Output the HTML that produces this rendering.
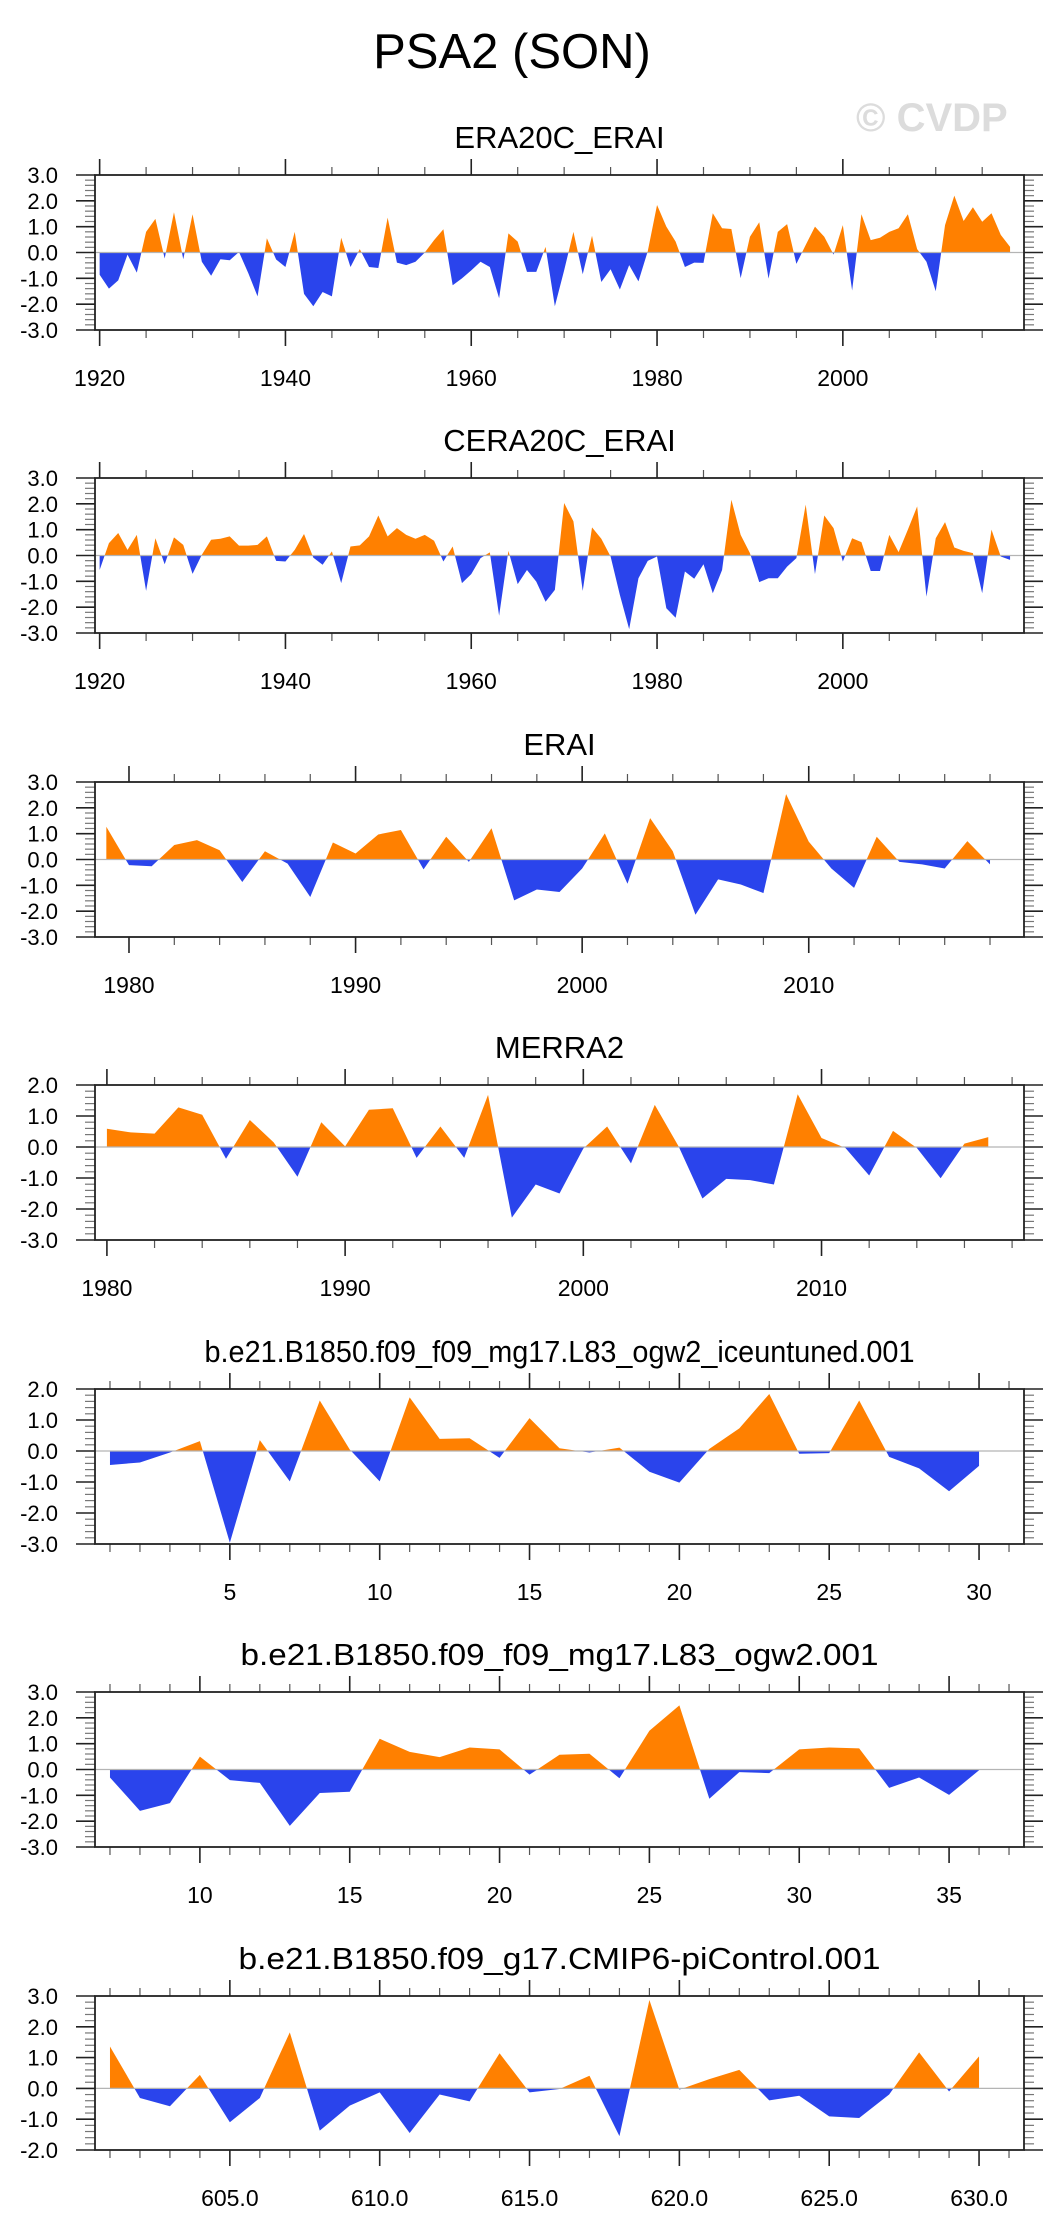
<!DOCTYPE html>
<html><head><meta charset="utf-8"><title>PSA2 (SON)</title>
<style>
html,body{margin:0;padding:0;background:#fff;}
svg{display:block;font-family:"Liberation Sans",Arial,sans-serif;}
</style></head>
<body>
<svg id="chart" width="1058" height="2236" viewBox="0 0 1058 2236" xmlns="http://www.w3.org/2000/svg">
<rect x="0" y="0" width="1058" height="2236" fill="#fff"/>
<text x="512" y="68" text-anchor="middle" font-size="49" fill="#000">PSA2 (SON)</text>
<text x="856" y="131" font-size="40" font-weight="bold" fill="#dcdcdc">© CVDP</text>
</svg>
<script>
// ---- data ----
const era20cYears = [1920, 2018];
const era20cValues = [-0.86,-1.4,-1.08,-0.08,-0.78,0.8,1.3,-0.23,1.56,-0.26,1.48,-0.36,-0.9,-0.26,-0.3,0.02,-0.8,-1.7,0.55,-0.27,-0.56,0.8,-1.6,-2.08,-1.53,-1.7,0.57,-0.56,0.13,-0.56,-0.6,1.35,-0.39,-0.49,-0.36,0.0,0.48,0.9,-1.27,-1.0,-0.69,-0.36,-0.56,-1.77,0.74,0.42,-0.75,-0.75,0.22,-2.08,-0.69,0.8,-0.84,0.65,-1.14,-0.65,-1.43,-0.49,-1.12,0.05,1.84,1.0,0.42,-0.56,-0.39,-0.4,1.52,0.94,0.91,-0.99,0.61,1.17,-1.01,0.8,1.1,-0.44,0.29,1.0,0.61,-0.08,1.06,-1.47,1.48,0.48,0.57,0.8,0.94,1.48,0.13,-0.36,-1.5,1.06,2.2,1.22,1.75,1.19,1.52,0.68,0.22];
const cera20cYears = [1920, 2018];
const cera20cValues = [-0.56,0.48,0.87,0.22,0.8,-1.37,0.67,-0.34,0.7,0.41,-0.71,0.03,0.61,0.65,0.74,0.38,0.38,0.41,0.74,-0.21,-0.23,0.22,0.83,-0.08,-0.36,0.16,-1.07,0.35,0.39,0.74,1.55,0.74,1.06,0.8,0.65,0.8,0.57,-0.23,0.35,-1.07,-0.72,-0.1,0.12,-2.33,0.18,-1.11,-0.56,-1.01,-1.79,-1.33,2.03,1.32,-1.37,1.09,0.65,-0.04,-1.53,-2.85,-0.88,-0.21,-0.04,-2.04,-2.41,-0.62,-0.9,-0.34,-1.46,-0.56,2.16,0.8,0.09,-1.03,-0.88,-0.88,-0.43,-0.1,1.97,-0.72,1.55,1.06,-0.23,0.67,0.52,-0.6,-0.6,0.8,0.13,1.0,1.9,-1.59,0.67,1.29,0.31,0.18,0.09,-1.46,1.0,-0.04,-0.17];
const eraiYears = [1979, 2018];
const eraiValues = [1.27,-0.22,-0.26,0.56,0.75,0.36,-0.87,0.32,-0.16,-1.45,0.66,0.23,0.97,1.14,-0.38,0.88,-0.09,1.21,-1.58,-1.16,-1.26,-0.35,1.01,-0.94,1.6,0.32,-2.14,-0.77,-0.97,-1.3,2.53,0.69,-0.35,-1.1,0.88,-0.09,-0.19,-0.35,0.71,-0.19];
const merra2Years = [1980, 2017];
const merra2Values = [0.59,0.47,0.43,1.28,1.04,-0.38,0.87,0.15,-0.96,0.8,0.02,1.2,1.25,-0.35,0.66,-0.35,1.68,-2.28,-1.21,-1.5,-0.05,0.66,-0.53,1.36,0.02,-1.66,-1.03,-1.07,-1.21,1.7,0.29,-0.03,-0.92,0.52,-0.03,-1.01,0.11,0.32];
const iceuntunedYears = [1, 30];
const iceuntunedValues = [-0.45,-0.37,-0.05,0.32,-2.96,0.35,-0.98,1.63,0.05,-0.98,1.73,0.39,0.41,-0.22,1.06,0.09,-0.05,0.11,-0.67,-1.02,0.07,0.73,1.84,-0.09,-0.07,1.63,-0.19,-0.56,-1.3,-0.48];
const ogw2Years = [7, 36];
const ogw2Values = [-0.31,-1.6,-1.3,0.5,-0.41,-0.52,-2.18,-0.91,-0.86,1.19,0.68,0.48,0.85,0.78,-0.2,0.57,0.61,-0.34,1.5,2.48,-1.13,-0.1,-0.14,0.78,0.85,0.82,-0.71,-0.31,-0.98,-0.03];
const picontrolYears = [601, 630];
const picontrolValues = [1.36,-0.31,-0.58,0.44,-1.1,-0.31,1.82,-1.37,-0.56,-0.13,-1.45,-0.2,-0.42,1.14,-0.13,-0.02,0.41,-1.55,2.87,-0.04,0.3,0.6,-0.39,-0.24,-0.91,-0.96,-0.2,1.17,-0.1,1.04];
const eraMajorTicks = [1920,1940,1960,1980,2000];
const eraiMajorTicks = [1980,1990,2000,2010];
const iceMajorTicks = [5,10,15,20,25,30];
const ogw2MajorTicks = [10,15,20,25,30,35];
const piMajorTicks = [605,610,615,620,625,630];
const piTickLabels = ["605.0","610.0","615.0","620.0","625.0","630.0"];

// ---- drawing ----
const NS = "http://www.w3.org/2000/svg";
const svg = document.getElementById("chart");
const L = 95, R = 1024;
function el(tag, attrs){
  const e = document.createElementNS(NS, tag);
  for (const k in attrs) e.setAttribute(k, attrs[k]);
  return e;
}
function panel(p){
  const g = el("g", {});
  
  
  svg.appendChild(g);
  const top = p.top, bot = p.top + p.h;
  const n = p.values.length;
  const xmin = p.years[0] - 0.5, xmax = p.years[1] + 1.5;
  const sx = v => L + (v - xmin) / (xmax - xmin) * (R - L);
  const sy = v => top + (p.ymax - v) / (p.ymax - p.ymin) * p.h;
  const xs = [], vs = [];
  for (let i = 0; i < n; i++){ xs.push(p.years[0] + i); vs.push(p.values[i]); }
  const t = el("text", {x: (L+R)/2, y: top - 27, "text-anchor": "middle", "font-size": 31, fill: "#000"});
  if (p.tlen){ t.setAttribute("textLength", p.tlen); t.setAttribute("lengthAdjust", "spacingAndGlyphs"); }
  
  
  t.textContent = p.title;
  g.appendChild(t);
  function poly(sign){
    const pts = [[xs[0], 0]];
    for (let i = 0; i < n; i++){
      const v = vs[i];
      pts.push([xs[i], sign > 0 ? Math.max(v, 0) : Math.min(v, 0)]);
      if (i < n - 1){
        const a = vs[i], b = vs[i+1];
        if ((a > 0 && b < 0) || (a < 0 && b > 0)){
          const xc = xs[i] + a / (a - b);
          pts.push([xc, 0]);
        }
      }
    }
    pts.push([xs[n-1], 0]);
    return "M" + pts.map(q => sx(q[0]).toFixed(2) + "," + sy(q[1]).toFixed(2)).join("L") + "Z";
  }
  const pos = el("path", {d: poly(1), fill: "#ff8000", stroke: "none"});
  
  
  g.appendChild(pos);
  const neg = el("path", {d: poly(-1), fill: "#2a44ec", stroke: "none"});
  
  
  g.appendChild(neg);
  const z = el("line", {x1: L, x2: R, y1: sy(0), y2: sy(0), stroke: "#b4b4b4", "stroke-width": 1.3});
  
  
  g.appendChild(z);
  for (let v = p.ymin; v <= p.ymax + 1e-6; v += 0.2){
    const vr = Math.round(v * 10) / 10;
    const major = Math.abs(vr - Math.round(vr)) < 1e-6;
    const len = major ? 19 : 10;
    const col = major ? "#222" : "#777";
    const y = sy(vr);
    g.appendChild(el("line", {x1: L - len, x2: L, y1: y, y2: y, stroke: col, "stroke-width": major ? 1.6 : 1.2}));
    g.appendChild(el("line", {x1: R, x2: R + len, y1: y, y2: y, stroke: col, "stroke-width": major ? 1.6 : 1.2}));
    if (major){
      const yl = el("text", {x: 58, y: y + 8, "text-anchor": "end", "font-size": 22, fill: "#000"});
      
      
      yl.textContent = vr.toFixed(1);
      g.appendChild(yl);
    }
  }
  const minorStart = Math.ceil(xmin / p.minor) * p.minor;
  for (let v = minorStart; v <= xmax; v += p.minor){
    if (p.majors.indexOf(v) >= 0) continue;
    const x = sx(v);
    g.appendChild(el("line", {x1: x, x2: x, y1: top - 8, y2: top, stroke: "#555", "stroke-width": 1.2}));
    g.appendChild(el("line", {x1: x, x2: x, y1: bot, y2: bot + 8, stroke: "#555", "stroke-width": 1.2}));
  }
  p.majors.forEach((v, i) => {
    const x = sx(v);
    g.appendChild(el("line", {x1: x, x2: x, y1: top - 16, y2: top, stroke: "#222", "stroke-width": 1.6}));
    g.appendChild(el("line", {x1: x, x2: x, y1: bot, y2: bot + 16, stroke: "#222", "stroke-width": 1.6}));
    const xl = el("text", {x: x, y: bot + 56, "text-anchor": "middle", "font-size": 23, fill: "#000"});
    
    
    xl.textContent = p.labels ? p.labels[i] : String(v);
    g.appendChild(xl);
  });
  const f = el("rect", {x: L, y: top, width: R - L, height: p.h, fill: "none", stroke: "#222", "stroke-width": 1.8});
  
  
  g.appendChild(f);
}
panel({key:"era20c-erai", title:"ERA20C_ERAI", top:175, h:155, ymin:-3, ymax:3, years:era20cYears, values:era20cValues, majors:eraMajorTicks, minor:5});
panel({key:"cera20c-erai", title:"CERA20C_ERAI", top:478, h:155, ymin:-3, ymax:3, years:cera20cYears, values:cera20cValues, majors:eraMajorTicks, minor:5});
panel({key:"erai", title:"ERAI", top:782, h:155, ymin:-3, ymax:3, years:eraiYears, values:eraiValues, majors:eraiMajorTicks, minor:2});
panel({key:"merra2", title:"MERRA2", top:1085, h:155, ymin:-3, ymax:2, years:merra2Years, values:merra2Values, majors:eraiMajorTicks, minor:2});
panel({key:"iceuntuned", title:"b.e21.B1850.f09_f09_mg17.L83_ogw2_iceuntuned.001", top:1389, h:155, ymin:-3, ymax:2, years:iceuntunedYears, values:iceuntunedValues, majors:iceMajorTicks, minor:1, tlen:710});
panel({key:"ogw2", title:"b.e21.B1850.f09_f09_mg17.L83_ogw2.001", top:1692, h:155, ymin:-3, ymax:3, years:ogw2Years, values:ogw2Values, majors:ogw2MajorTicks, minor:1, tlen:638});
panel({key:"picontrol", title:"b.e21.B1850.f09_g17.CMIP6-piControl.001", top:1996, h:154, ymin:-2, ymax:3, years:picontrolYears, values:picontrolValues, majors:piMajorTicks, minor:1, labels:piTickLabels, tlen:642});
</script>
</body></html>
